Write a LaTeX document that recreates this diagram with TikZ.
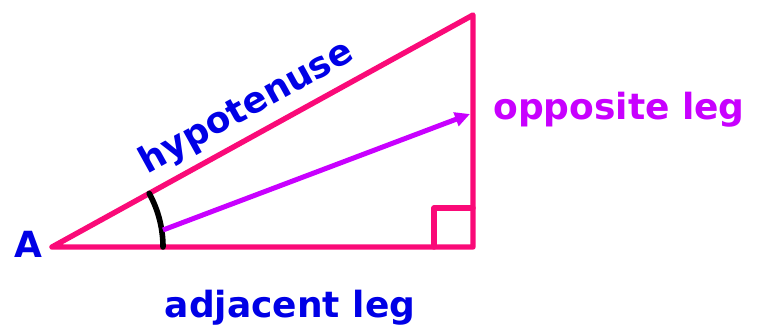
\documentclass[tikz,border=0pt]{standalone}
\usepackage{fontspec}
\setmainfont{DejaVu Sans}
\usetikzlibrary{arrows.meta, positioning, calc}
\definecolor{legline}{RGB}{250,10,120}
\definecolor{vecline}{RGB}{200,0,255}
\definecolor{lbltext}{RGB}{0,0,230}

\begin{document}
\begin{tikzpicture}[
  x=1pt, y=-1pt,
  font=\bfseries\fontsize{36}{40}\selectfont,
  leg/.style={draw=legline, line width=5.4pt, line join=round, line cap=round},
  vec/.style={-{Triangle[length=15pt, width=14pt]}, draw=vecline, line width=5pt},
  ang/.style={draw=black, line width=5.6pt, line cap=round},
  lbl/.style={text=lbltext, inner sep=0pt},
]
\useasboundingbox (0,0) rectangle (758,332);
\coordinate (A) at (52,247);
\coordinate (B) at (473,247);
\coordinate (C) at (473,15);
\coordinate (tail) at (163,230);
\coordinate (tip) at (470,114);

\draw[leg] (A) -- (B) -- (C) -- cycle;
\draw[leg] ($(B)+(-39,0)$) |- ($(B)+(0,-39)$);
\draw[ang] ($(A)+(111,0)$) arc[start angle=0, end angle=-28.9, radius=111];
\draw[vec] (tail) -- (tip);

\node[lbl] (lA) at (28,244) {A};
\node[lbl, rotate=28.9] (hyp) at (247,108) {hypotenuse};
\node[lbl, text=vecline] (opp) at (619,110) {opposite leg};
\node[lbl] (adj) at (290,308) {adjacent leg};
\end{tikzpicture}
\end{document}
